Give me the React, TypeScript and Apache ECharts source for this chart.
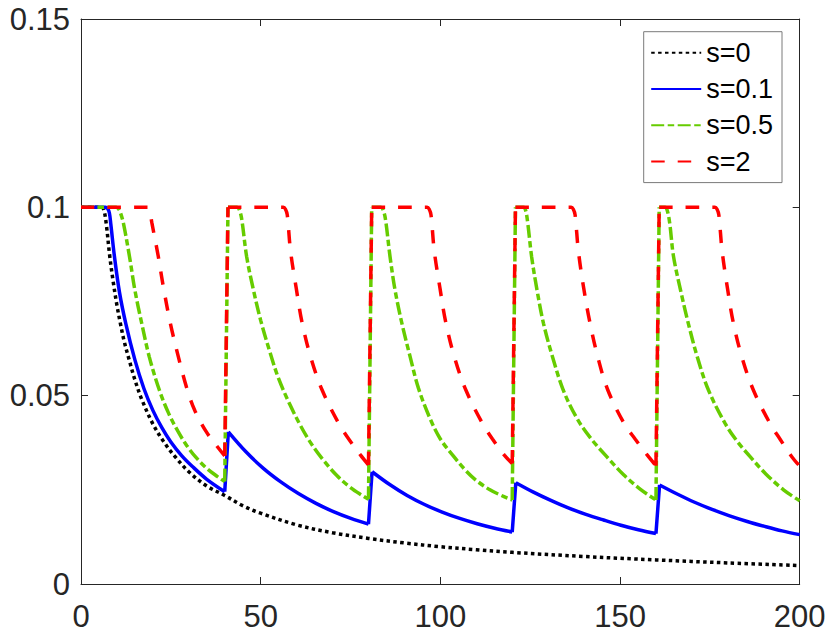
import React, { useEffect, useRef } from "react";
import * as echarts from "echarts";

const xTicks = [0, 50, 100, 150, 200];
const yTicks = [0, 0.05, 0.1, 0.15];
const seriesNames = ["s=0", "s=0.1", "s=0.5", "s=2"];

// s = 0 : single decay, no resets
const s0 = [
  [0, 0.1], [5.6, 0.1], [6.3, 0.0995], [7, 0.0958], [8, 0.087], [9, 0.08], [10, 0.074], [11, 0.069],
  [12, 0.0645], [13.5, 0.0592], [15, 0.0542], [17, 0.0488], [20, 0.0425], [23, 0.0378],
  [26, 0.034], [30, 0.0298], [35, 0.026], [40, 0.0235], [45, 0.0208], [50, 0.0188],
  [60, 0.0157], [70, 0.0136], [80, 0.0121], [90, 0.0109], [100, 0.0099], [110, 0.0091],
  [120, 0.0084], [140, 0.0073], [160, 0.0064], [180, 0.0056], [200, 0.0049],
];

// s = 0.1 : one array per period between resets
const s01Cycles = [
  [[0, 0.1], [6.8, 0.1], [7.4, 0.0997], [7.9, 0.0985], [8.3, 0.0955], [9.3, 0.087], [10.7, 0.0775],
   [12.5, 0.069], [15, 0.0595], [17.5, 0.0519], [20, 0.0461], [22.5, 0.0415], [25, 0.0377],
   [28, 0.0341], [31, 0.0312], [35, 0.0278], [40, 0.0245]],
  [[41, 0.0404], [45.9, 0.0351], [50.75, 0.0307], [55.6, 0.0271], [60.5, 0.024], [65.4, 0.0214],
   [70.25, 0.0192], [75.1, 0.0174], [80, 0.0159]],
  [[81, 0.0298], [85.9, 0.0264], [90.75, 0.0235], [95.6, 0.0211], [100.5, 0.0191], [105.4, 0.0174],
   [110.25, 0.016], [115.1, 0.0148], [120, 0.0138]],
  [[121, 0.0269], [125.9, 0.0244], [130.75, 0.0222], [135.6, 0.0202], [140.5, 0.0185],
   [145.4, 0.017], [150.25, 0.0156], [155.1, 0.0144], [160, 0.0134]],
  [[161, 0.0263], [165.9, 0.0239], [170.75, 0.0217], [175.6, 0.0198], [180.5, 0.0181],
   [185.4, 0.0166], [190.25, 0.0153], [195.1, 0.0141], [200, 0.0131]],
];

// s = 0.5
const s05Cycles = [
  [[0, 0.1], [9.8, 0.1], [10.5, 0.0995], [11, 0.0985], [11.8, 0.0958], [13.5, 0.0869], [15, 0.078],
   [16.9, 0.0692], [19, 0.0603], [21.8, 0.0515], [24.3, 0.0455], [27, 0.0405], [29.4, 0.0368],
   [32, 0.0336], [35, 0.0307], [38, 0.0285], [40, 0.0272]],
  [[40.9, 0.1], [43.4, 0.1], [44, 0.0995], [44.7, 0.097], [46.1, 0.0869], [48, 0.078], [50, 0.07],
   [52.6, 0.0615], [55, 0.0545], [58.2, 0.0475], [61, 0.0422], [63.7, 0.0378], [67, 0.0334],
   [71.2, 0.0288], [75, 0.0256], [78.6, 0.0233], [80, 0.0225]],
  [[80.9, 0.1], [83.4, 0.1], [84, 0.0995], [84.7, 0.097], [86, 0.0869], [87.4, 0.078], [89.3, 0.0692],
   [91.6, 0.0603], [93.9, 0.052], [97.1, 0.044], [100, 0.0385], [103.6, 0.034], [107, 0.0302],
   [110, 0.0275], [113.8, 0.025], [117, 0.0235], [120, 0.0223]],
  [[120.9, 0.1], [123.1, 0.1], [123.7, 0.0993], [124.3, 0.096], [125.4, 0.0869], [127, 0.0775],
   [128.7, 0.0692], [131, 0.061], [134.2, 0.0515], [138, 0.044], [142, 0.0385], [146.3, 0.0338],
   [151, 0.029], [155.6, 0.0252], [160, 0.0223]],
  [[160.9, 0.1], [162.5, 0.1], [163.1, 0.0993], [163.8, 0.096], [164.9, 0.0869], [167.2, 0.0765],
   [169, 0.0692], [171.5, 0.0603], [174.6, 0.0515], [179.2, 0.0427], [182.5, 0.038],
   [186.2, 0.0338], [190.5, 0.0293], [195.5, 0.025], [200, 0.0221]],
];

// s = 2
const s2Cycles = [
  [[0, 0.1], [18.5, 0.1], [19.1, 0.0993], [19.7, 0.096], [21.5, 0.087], [22.9, 0.079], [24.8, 0.0695],
   [27.1, 0.0603], [29.6, 0.0515], [31.7, 0.046], [34.8, 0.0405], [37.5, 0.037], [40, 0.034]],
  [[40.9, 0.1], [56.3, 0.1], [56.9, 0.0995], [57.4, 0.098], [58.3, 0.0885], [59.9, 0.0785],
   [61.5, 0.0695], [63.9, 0.0603], [67.1, 0.0515], [71.8, 0.0425], [74.5, 0.0385], [77.8, 0.0342],
   [80, 0.0316]],
  [[80.9, 0.1], [96.3, 0.1], [96.9, 0.0995], [97.4, 0.098], [98.3, 0.0885], [99.9, 0.0785],
   [101.5, 0.0695], [103.9, 0.0603], [107.1, 0.0515], [111.8, 0.0425], [114.5, 0.0385],
   [117.8, 0.0342], [120, 0.032]],
  [[120.9, 0.1], [136.4, 0.1], [137, 0.0995], [137.5, 0.098], [138.4, 0.0885], [139.9, 0.0785],
   [141.6, 0.0695], [143.8, 0.0603], [146.6, 0.0515], [151.2, 0.0425], [154.2, 0.0385],
   [157.6, 0.0342], [160, 0.0314]],
  [[160.9, 0.1], [176.4, 0.1], [177, 0.0995], [177.5, 0.098], [178.4, 0.0885], [179.9, 0.0785],
   [181.5, 0.0695], [183.9, 0.0603], [187.1, 0.0515], [191.8, 0.0425], [194.5, 0.0385],
   [197.8, 0.0338], [200, 0.0313]],
];

// Join periods: each reset jump is its own straight two-point run, separated by gaps
function joinCycles(cycles: number[][][]) {
  const out: (number[] | null)[] = [];
  cycles.forEach((cyc, i) => {
    if (i > 0) {
      const prev = cycles[i - 1];
      out.push(null);
      out.push(prev[prev.length - 1]);
      out.push(cyc[0]);
      out.push(null);
    }
    cyc.forEach((p) => out.push(p));
  });
  return out;
}

const FONT = "'Liberation Sans', Arial, Helvetica, sans-serif";
const AXIS_COLOR = "#262626";
const LW = 3.5;

export default function App() {
  const ref = useRef<HTMLDivElement>(null);

  useEffect(() => {
    document.body.style.margin = "0";
    const chart = echarts.init(ref.current as HTMLDivElement, null, { renderer: "svg" });

    const xBase = {
      type: "value",
      min: xTicks[0],
      max: xTicks[xTicks.length - 1],
      interval: xTicks[1] - xTicks[0],
      splitLine: { show: false },
      axisLine: { show: true, onZero: false, lineStyle: { color: AXIS_COLOR, width: 1 } },
      axisTick: { show: true, inside: true, length: 7, lineStyle: { color: AXIS_COLOR, width: 1 } },
    };
    const yBase = {
      type: "value",
      min: yTicks[0],
      max: yTicks[yTicks.length - 1],
      interval: yTicks[1] - yTicks[0],
      splitLine: { show: false },
      axisLine: { show: true, onZero: false, lineStyle: { color: AXIS_COLOR, width: 1 } },
      axisTick: { show: true, inside: true, length: 7, lineStyle: { color: AXIS_COLOR, width: 1 } },
    };

    const common = {
      type: "line",
      symbol: "none",
      showSymbol: false,
      smooth: 0.35,
      connectNulls: false,
    };

    chart.setOption({
      animation: false,
      backgroundColor: "#ffffff",
      grid: { left: 81, top: 19, width: 718.7, height: 565, containLabel: false },
      xAxis: [
        {
          ...xBase,
          position: "bottom",
          axisLabel: { show: true, fontSize: 31, color: AXIS_COLOR, fontFamily: FONT, margin: 17 },
        },
        { ...xBase, position: "top", axisLabel: { show: false } },
      ],
      yAxis: [
        {
          ...yBase,
          position: "left",
          axisLabel: {
            show: true,
            fontSize: 31,
            color: AXIS_COLOR,
            fontFamily: FONT,
            margin: 11,
            formatter: (v: number) => String(Math.round(v * 100) / 100),
          },
        },
        { ...yBase, position: "right", axisLabel: { show: false } },
      ],
      legend: {
        orient: "vertical",
        left: 643.7,
        top: 31.7,
        padding: [7.5, 9, 7.5, 6.5],
        itemGap: 9.3,
        itemWidth: 50,
        itemHeight: 14,
        borderColor: "#7a7a7a",
        borderWidth: 1,
        backgroundColor: "#ffffff",
        itemStyle: { opacity: 0 },
        textStyle: { fontSize: 27, lineHeight: 27, color: "#000000", fontFamily: FONT },
        data: seriesNames,
      },
      series: [
        {
          ...common,
          name: seriesNames[0],
          data: s0,
          lineStyle: { color: "#000000", width: LW, type: [3.5, 3.4], cap: "butt" },
          itemStyle: { color: "#000000" },
        },
        {
          ...common,
          name: seriesNames[1],
          data: joinCycles(s01Cycles),
          lineStyle: { color: "#0000ff", width: LW, type: "solid" },
          itemStyle: { color: "#0000ff" },
        },
        {
          ...common,
          name: seriesNames[2],
          data: joinCycles(s05Cycles),
          lineStyle: { color: "#66cc00", width: LW, type: [13, 3.5, 6.5, 3.5], cap: "butt" },
          itemStyle: { color: "#66cc00" },
        },
        {
          ...common,
          name: seriesNames[3],
          data: joinCycles(s2Cycles),
          lineStyle: { color: "#ff0000", width: LW, type: [13.5, 13], cap: "butt" },
          itemStyle: { color: "#ff0000" },
        },
      ],
    });

    return () => chart.dispose();
  }, []);

  return <div ref={ref} style={{ width: 831, height: 639 }} />;
}
